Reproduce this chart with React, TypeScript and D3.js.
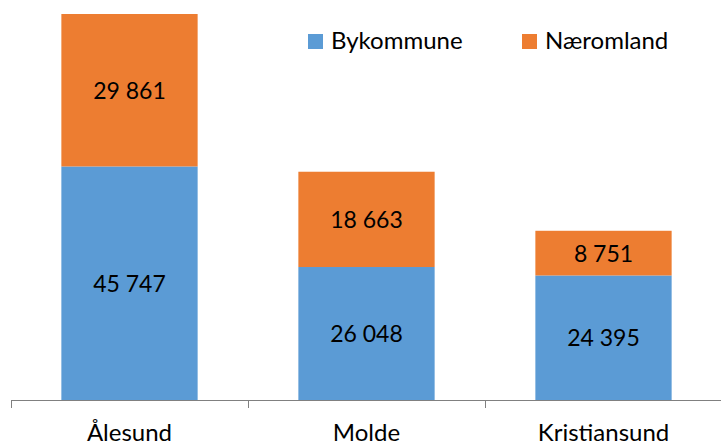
import React from "react";
import * as d3 from "d3";

const categories = ["Ålesund", "Molde", "Kristiansund"];
const bykommune = [45747, 26048, 24395];
const naeromland = [29861, 18663, 8751];
const seriesNames = ["Bykommune", "Næromland"];
const colors = ["#5B9BD5", "#ED7D31"];

const W = 721, H = 443;
const FONT = "Lato, 'Open Sans', sans-serif";

function fmt(v: number) {
  return d3.format(",")(v).replace(/,/g, " ");
}

export default function App() {
  const x = d3.scaleBand<string>().domain(categories).range([11, 722]).paddingInner(0.425).paddingOuter(0.2125);
  const y = d3.scaleLinear().domain([0, 75608]).range([400, 14]);
  const rows = categories.map((c, i) => ({ cat: c, Bykommune: bykommune[i], Næromland: naeromland[i] }));
  const stack = d3.stack<any>().keys(seriesNames)(rows);
  const tickXs = [0, 1, 2, 3].map((i) => 11 + i * (711 / 3));

  return (
    <svg width={W} height={H} style={{ position: "absolute", left: 0, top: 0, fontFamily: FONT }}>
      <rect width={W} height={H} fill="#fff" />
      {stack.map((s, si) =>
        s.map((d, i) => (
          <g key={`${si}-${i}`}>
            <rect x={x(categories[i])} width={x.bandwidth()} y={y(d[1])} height={y(d[0]) - y(d[1])} fill={colors[si]} />
            <text x={(x(categories[i]) as number) + x.bandwidth() / 2} y={(y(d[0]) + y(d[1])) / 2 + 8.5} textAnchor="middle" fontSize={23} fill="#000">
              {fmt(d[1] - d[0])}
            </text>
          </g>
        ))
      )}
      <line x1={11} x2={722} y1={400.5} y2={400.5} stroke="#808080" strokeWidth={1} />
      {tickXs.map((tx, i) => (
        <line key={i} x1={Math.round(tx) + 0.5} x2={Math.round(tx) + 0.5} y1={400} y2={408} stroke="#808080" />
      ))}
      {categories.map((c) => (
        <text key={c} x={(x(c) as number) + x.bandwidth() / 2} y={441} textAnchor="middle" fontSize={24} fill="#000">
          {c}
        </text>
      ))}
      <g>
        <rect x={308} y={34} width={15} height={15} fill={colors[0]} />
        <text x={331} y={49} fontSize={24} fill="#000">{seriesNames[0]}</text>
        <rect x={522} y={34} width={15} height={15} fill={colors[1]} />
        <text x={545} y={49} fontSize={24} fill="#000">{seriesNames[1]}</text>
      </g>
    </svg>
  );
}
